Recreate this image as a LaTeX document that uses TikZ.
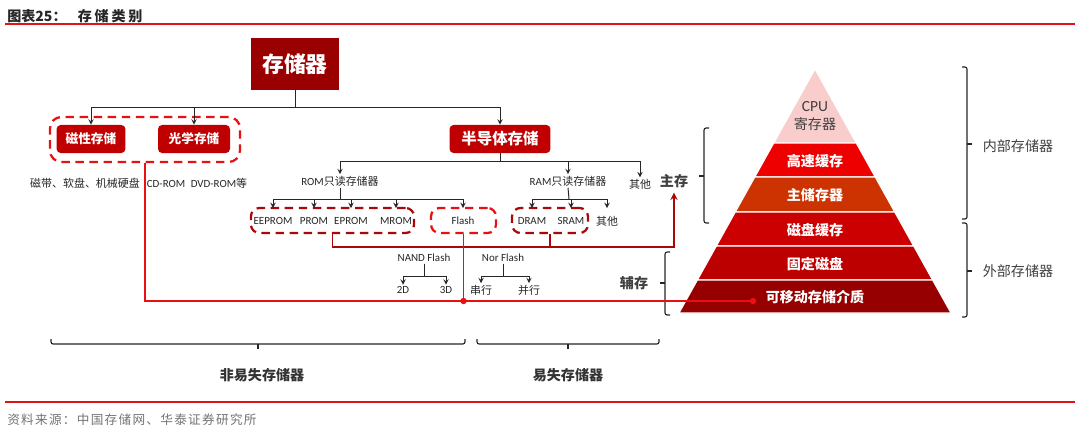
\documentclass[tikz,border=0pt]{standalone}
\usepackage{fontspec}
\setmainfont{Noto Sans CJK SC}
\newfontfamily\latin{Carlito}
\newfontfamily\srcfont{Noto Sans CJK SC}[LetterSpace=10]
\usepackage{tikz}
\usetikzlibrary{shapes,decorations}
\usetikzlibrary{arrows}

\definecolor{topred}{RGB}{155,0,0}
\definecolor{boxred}{RGB}{192,0,0}
\definecolor{dashred}{RGB}{168,8,8}
\definecolor{brightred}{RGB}{232,16,16}
\definecolor{rulered}{RGB}{225,20,20}
\definecolor{txtgray}{RGB}{64,64,64}
\definecolor{pyr1}{RGB}{250,205,205}
\definecolor{pyr2}{RGB}{238,0,0}
\definecolor{pyr3}{RGB}{204,51,0}
\definecolor{pyr4}{RGB}{204,0,0}
\definecolor{pyr5}{RGB}{188,0,0}
\definecolor{pyr6}{RGB}{150,0,0}

\tikzset{
  small/.style={font=\fontsize{7.8}{9}\selectfont, text=black!85, inner sep=1pt},
  item/.style={small, minimum height=18pt},
  rbox/.style={fill=boxred, text=white, rounded corners=3pt, minimum height=20pt,
    font=\bfseries\fontsize{9}{10}\selectfont},
  dbox/.style={draw=#1, line width=1.6pt, dash pattern=on 6pt off 4pt,
    rounded corners=6pt, minimum height=17.8pt},
  tline/.style={draw=black!85, line width=0.7pt},
  darkpath/.style={draw=dashred, line width=1.3pt},
  brightpath/.style={draw=brightred, line width=1.1pt},
  rdot/.style={circle, fill=brightred, inner sep=1.6pt},
  brace/.style={draw=black!85, line width=0.8pt, rounded corners=1.5pt},
  side/.style={text=txtgray, font=\bfseries\fontsize{10}{12}\selectfont},
  ptxt/.style={text=white, font=\bfseries\fontsize{10}{12}\selectfont}
}

\begin{document}
\begin{tikzpicture}[x=0.025cm, y=-0.025cm]
\useasboundingbox (0,0) rectangle (1080,433);
% title and rules
\node[anchor=west, inner sep=0, text=black!85, font=\bfseries\fontsize{10}{12}\selectfont] (title) at (7,16)
  {图表25：\hspace{8pt}存\hspace{2pt}储\hspace{2pt}类\hspace{2pt}别};
\draw[rulered, line width=1pt] (5,24) -- (1075,24);
\draw[rulered, line width=1pt] (5,402) -- (1075,402);
\node[anchor=west, inner sep=0, text=black!55, font=\srcfont\fontsize{9}{11}\selectfont] (source) at (7,420)
  {资料来源：中国存储网、华泰证券研究所};

% top level
\node[fill=topred, text=white, minimum width=61.9pt, minimum height=37pt,
  font=\bfseries\fontsize{15.5}{17}\selectfont] (cunchu) at (295,64) {存储器};
\node[rbox, minimum width=49pt] (cixing) at (91,139) {磁性存储};
\node[rbox, minimum width=51.2pt] (guangxue) at (194,139) {光学存储};
\node[rbox, minimum width=71.8pt, font=\bfseries\fontsize{11}{12}\selectfont] (bandaoti) at (500,139) {半导体存储};
\node[dbox=brightred, minimum width=135pt, minimum height=32pt, rounded corners=8pt] (optbox) at (145,139.5) {};
\coordinate (j1) at (295,107);
\draw[tline] (cunchu.south) -- (j1);
\draw[tline,-stealth] (j1) -| (cixing.north);
\draw[tline,-stealth] (j1) -| (guangxue.north);
\draw[tline,-stealth] (j1) -| (bandaoti.north);

\node[small] (cidai) at (85,183) {磁带、软盘、机械硬盘};
\node[small] (guangpan) at (197,183) {{\latin CD-ROM\enspace DVD-ROM}等};

% semiconductor
\node[small] (rom) at (340,181) {{\latin ROM}只读存储器};
\node[small] (ram) at (568,181) {{\latin RAM}只读存储器};
\node[small] (qita1) at (640,184) {其他};
\coordinate (j2) at (500,161);
\draw[tline] (bandaoti.south) -- (j2);
\draw[tline,-stealth] (j2) -| (rom.north);
\draw[tline,-stealth] (j2) -| (ram.north);
\draw[tline,-stealth] (j2) -| (qita1.north);

\node[dbox=dashred, minimum width=116pt] (rombox) at (332.5,220.5) {};
\node[dbox=brightred, minimum width=46.2pt] (flashbox) at (463.5,220.5) {};
\node[dbox=dashred, minimum width=54pt] (rambox) at (550,220.5) {};

\node[item] (eeprom) at (273,221) {\latin EEPROM};
\node[item] (prom) at (314,221) {\latin PROM};
\node[item] (eprom) at (351,221) {\latin EPROM};
\node[item] (mrom) at (396,221) {\latin MROM};
\node[item] (flash) at (463,221) {\latin Flash};
\node[item] (dram) at (532,221) {\latin DRAM};
\node[item] (sram) at (571,221) {\latin SRAM};
\node[item] (qita2) at (607,221) {其他};
\coordinate (j3) at (340,199);
\coordinate (j4) at (569,199);
\draw[tline] (rom.south) -- (j3);
\foreach \n in {eeprom,prom,eprom,mrom,flash}
  \draw[tline,-stealth] (j3) -| (\n.north);
\draw[tline] (ram.south) -- (j4);
\foreach \n in {dram,sram,qita2}
  \draw[tline,-stealth] (j4) -| (\n.north);

% flash types
\node[small] (nand) at (424,258) {\latin NAND Flash};
\node[small] (nor) at (503,258) {\latin Nor Flash};
\node[small] (twod) at (403,290) {\latin 2D};
\node[small] (threed) at (446,290) {\latin 3D};
\node[small] (chuan) at (481,290) {串行};
\node[small] (bing) at (529,290) {并行};
\coordinate (j5) at (424,276);
\coordinate (j6) at (503,276);
\draw[tline] (nand.south) -- (j5);
\draw[tline,-stealth] (j5) -| (twod.north);
\draw[tline,-stealth] (j5) -| (threed.north);
\draw[tline] (nor.south) -- (j6);
\draw[tline,-stealth] (j6) -| (chuan.north);
\draw[tline,-stealth] (j6) -| (bing.north);

% pyramid
\foreach \t/\b/\c in {69/143/pyr1, 143/177/pyr2, 177/212/pyr3, 212/246/pyr4, 246/280/pyr5, 280/313/pyr6} {
  \pgfmathsetmacro\wt{(\t-69)*0.5574}
  \pgfmathsetmacro\wb{(\b-69)*0.5574}
  \filldraw[fill=\c, draw=white, line width=0.8pt]
    (815-\wt,\t) -- (815+\wt,\t) -- (815+\wb,\b) -- (815-\wb,\b) -- cycle;
}
\node[text=txtgray, font=\fontsize{10}{13}\selectfont, align=center] (cpu) at (815,116) {{\latin\fontsize{11}{13}\selectfont CPU}\\寄存器};
\node[ptxt] (gaosu) at (815,161) {高速缓存};
\node[ptxt] (zhuchu) at (815,195.5) {主储存器};
\node[ptxt] (cipan) at (815,230) {磁盘缓存};
\node[ptxt] (guding) at (815,264) {固定磁盘};
\node[ptxt] (yidong) at (815,297.5) {可移动存储介质};

% side labels and braces
\node[side] (zhucun) at (674,181) {主存};
\node[side] (fucun) at (634,283) {辅存};
\draw[brace] (709,128) -- (704,128) -- (704,223) -- (709,223);
\draw[brace] (704,176) -- (699,176);
\draw[brace] (670,252) -- (665,252) -- (665,315) -- (670,315);
\draw[brace] (665,283) -- (660,283);
\draw[brace] (962,67) -- (967,67) -- (967,219) -- (962,219);
\draw[brace] (967,144) -- (972,144);
\draw[brace] (962,223) -- (967,223) -- (967,317) -- (962,317);
\draw[brace] (967,271) -- (972,271);
\node[text=txtgray, font=\fontsize{10}{12}\selectfont] (neibu) at (1018,146) {内部存储器};
\node[text=txtgray, font=\fontsize{10}{12}\selectfont] (waibu) at (1018,271) {外部存储器};

% bottom braces
\draw[brace] (51,339) -- (51,344) -- (465,344) -- (465,339);
\draw[brace] (258,344) -- (258,349);
\draw[brace] (477,339) -- (477,344) -- (659,344) -- (659,339);
\draw[brace] (568,344) -- (568,349);
\node[side, text=black!80] (feiyishi) at (262,375) {非易失存储器};
\node[side, text=black!80] (yishi) at (568,375) {易失存储器};

% connectors to the hierarchy
\coordinate (turn) at (674,247);
\draw[darkpath,-stealth] (rombox.south) |- (turn) -- (zhucun.south);
\draw[darkpath] (rambox.south) -- (rambox.south |- turn);
\coordinate (mend) at (753,301);
\draw[brightpath] (optbox.south) |- (mend);
\draw[brightpath] (flashbox.south) -- (flashbox.south |- mend);
\node[rdot] (dot1) at (flashbox.south |- mend) {};
\node[rdot] (dot2) at (mend) {};
\end{tikzpicture}
\end{document}
